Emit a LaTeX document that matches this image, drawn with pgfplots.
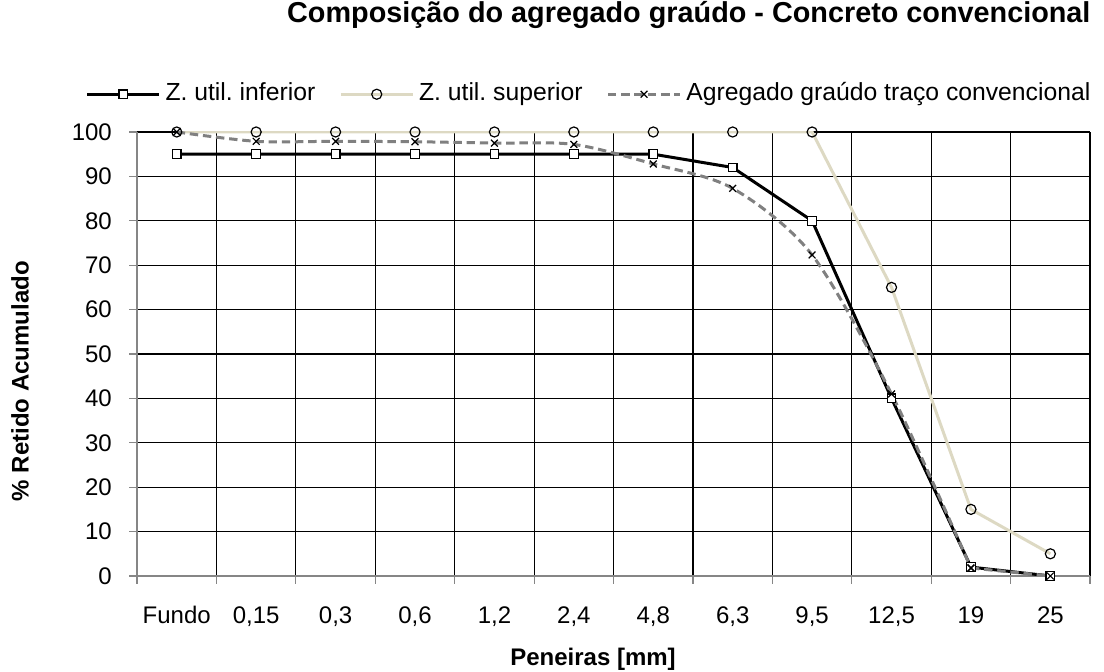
\documentclass[border=0pt]{standalone}
\usepackage{fontspec}
\setmainfont{Liberation Sans}
\usepackage{pgfplots}
\pgfplotsset{compat=1.18}

\definecolor{linhaeixo}{RGB}{134,134,134}
\definecolor{bege}{RGB}{221,217,195}
\definecolor{cinza}{RGB}{128,128,128}

% Peneiras: Fundo, 0,15, 0,3, 0,6, 1,2, 2,4, 4,8, 6,3, 9,5, 12,5, 19, 25
\pgfplotstableread{
x inferior superior agregado
0  95  100 100
1  95  100 97.9
2  95  100 97.9
3  95  100 97.8
4  95  100 97.5
5  95  100 97.2
6  95  100 92.8
7  92  100 87.3
8  80  100 72.3
9  40   65 41.0
10  2   15 1.8
11  0    5 0
}\dados

\begin{document}
\frenchspacing
\begin{tikzpicture}
\useasboundingbox (-57.1pt,-40pt) rectangle (402.9pt,240pt);
\begin{axis}[
  at={(0pt,0pt)}, anchor=south west,
  scale only axis,
  width=397.1pt, height=185pt,
  font=\fontsize{10}{12}\selectfont,
  /pgf/number format/assume math mode=true,
  xmin=-0.5, xmax=11.5,
  ymin=0, ymax=100,
  xtick={-0.5,0.5,...,11.5},
  x tick label as interval,
  xticklabels={Fundo,{0,15},{0,3},{0,6},{1,2},{2,4},{4,8},{6,3},{9,5},{12,5},19,25},
  ytick={0,10,...,100},
  axis lines*=left,
  axis line style={draw=linhaeixo, line width=0.5pt, -},
  tick align=outside,
  major tick length=3.3pt,
  tick style={draw=linhaeixo, line width=0.5pt},
  grid=major,
  major grid style={draw=black, line width=0.5pt},
  xticklabel style={anchor=base, inner sep=0pt, yshift=-16.3pt},
  yticklabel style={inner sep=0pt, xshift=-7pt},
  title={Composição do agregado graúdo - Concreto convencional},
  title style={font=\fontsize{12}{14}\selectfont\bfseries, at={(0.579,1.23)}, anchor=center},
  xlabel={Peneiras [mm]},
  xlabel style={font=\fontsize{10}{12}\selectfont\bfseries, at={(0.4785,-0.187)}, anchor=center},
  ylabel={\% Retido Acumulado},
  ylabel style={font=\fontsize{10}{12}\selectfont\bfseries, at={(-0.1228,0.439)}, anchor=center},
  legend columns=3,
  legend style={at={(0.4745,1.085)}, anchor=center, draw=none, fill=none,
    font=\fontsize{10.3}{12}\selectfont,
    nodes={inner sep=1pt, text height=0.75em, text depth=0.22em},
    /tikz/every odd column/.append style={column sep=1pt},
    /tikz/every even column/.append style={column sep=9pt}},
  legend image code/.code={
    \draw[mark repeat=2, mark phase=2] plot coordinates {(0pt,0pt) (15pt,0pt) (30pt,0pt)};
  },
]
\addplot[black, line width=1.25pt, mark=square*,
  mark options={fill=white, draw=black, line width=0.5pt, solid}, mark size=1.8pt]
  table[x=x, y=inferior] {\dados};
\addlegendentry{Z. util. inferior}
\addplot[bege, line width=1.25pt, mark=o,
  mark options={fill=white, draw=black, line width=0.5pt, solid}, mark size=2.1pt]
  table[x=x, y=superior] {\dados};
\addlegendentry{Z. util. superior}
% smoothed curve up to sieve 19, last stretch drawn straight so it stays above zero
\addplot[cinza, line width=1.25pt, dash pattern=on 3.5pt off 2pt, smooth, tension=0.5, mark=x,
  mark options={draw=black, line width=0.5pt, solid}, mark size=2pt,
  skip coords between index={11}{12}]
  table[x=x, y=agregado] {\dados};
\addlegendentry{Agregado graúdo traço convencional}
\addplot[cinza, line width=1.25pt, dash pattern=on 3.5pt off 2pt, mark=x,
  mark options={draw=black, line width=0.5pt, solid}, mark size=2pt,
  skip coords between index={0}{10}, forget plot]
  table[x=x, y=agregado] {\dados};
\end{axis}
\end{tikzpicture}
\end{document}
